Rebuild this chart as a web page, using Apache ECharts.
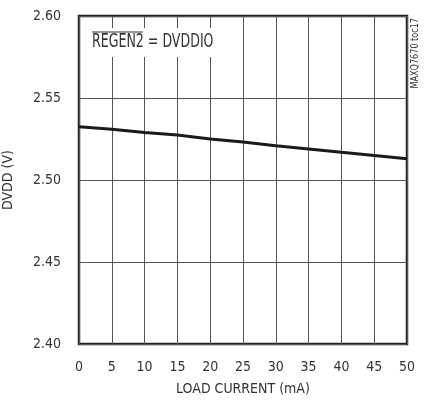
<!DOCTYPE html>
<html><head><meta charset="utf-8">
<script src="https://cdn.jsdelivr.net/npm/echarts@6/dist/echarts.min.js"></script>
<style>html,body{margin:0;padding:0;background:#fff}#c{width:424px;height:402px}</style>
</head><body><div id="c"></div>
<script>
var loadCurrent = [0, 5, 10, 15, 20, 25, 30, 35, 40, 45, 50];
var dvdd = [2.5325, 2.531, 2.529, 2.5274, 2.525, 2.5232, 2.5209, 2.5189, 2.5169, 2.515, 2.513];
var FONT = '"Liberation Sans Narrow", "DejaVu Sans Condensed", sans-serif';
var FS = 14;
var ctx = document.createElement('canvas').getContext('2d');
ctx.font = FS + 'px ' + FONT;
var regenW = ctx.measureText('REGEN2').width;
var chart = echarts.init(document.getElementById('c'));
var data = loadCurrent.map(function (x, i) { return [x, dvdd[i]]; });
chart.setOption({
  animation: false,
  grid: { left: 79, right: 17, top: 16, bottom: 58, show: true, borderColor: '#222', borderWidth: 2.5, outerBoundsMode: 'none', containLabel: false },
  xAxis: {
    type: 'value', min: 0, max: 50, interval: 5,
    name: 'LOAD CURRENT (mA)', nameLocation: 'middle', nameGap: 38,
    nameTextStyle: { fontFamily: FONT, fontSize: FS, color: '#333' },
    axisLine: { show: false }, axisTick: { show: false },
    axisLabel: { fontFamily: FONT, fontSize: FS, color: '#333', margin: 16 },
    splitLine: { lineStyle: { color: '#555', width: 1 } }
  },
  yAxis: {
    type: 'value', min: 2.40, max: 2.60, interval: 0.05,
    name: 'DVDD (V)', nameLocation: 'middle', nameGap: 64, nameRotate: 90,
    nameTextStyle: { fontFamily: FONT, fontSize: FS, color: '#333' },
    axisLine: { show: false }, axisTick: { show: false },
    axisLabel: { fontFamily: FONT, fontSize: FS, color: '#333', margin: 18, formatter: function (v) { return v.toFixed(2); } },
    splitLine: { lineStyle: { color: '#555', width: 1 } }
  },
  series: [{
    type: 'line', data: data, showSymbol: false, symbol: 'none',
    lineStyle: { color: '#1a1a1a', width: 3 }
  }],
  graphic: [
    { type: 'rect', shape: { x: 88, y: 28, width: 128, height: 29 }, style: { fill: '#fff' }, z: 10 },
    { type: 'text', x: 92, y: 42, scaleY: 1.35, style: { text: 'REGEN2 = DVDDIO', font: FS + 'px ' + FONT, fill: '#333', verticalAlign: 'middle' }, z: 11 },
    { type: 'line', shape: { x1: 92, y1: 32, x2: 92 + regenW - 1, y2: 32 }, style: { stroke: '#333', lineWidth: 1 }, z: 11 },
    { type: 'text', x: 415, y: 18, rotation: Math.PI / 2, scaleX: 0.9, style: { text: 'MAXQ7670 toc17', font: '10px ' + FONT, fill: '#333', align: 'right', verticalAlign: 'middle' }, z: 11 }
  ]
});
</script></body></html>
